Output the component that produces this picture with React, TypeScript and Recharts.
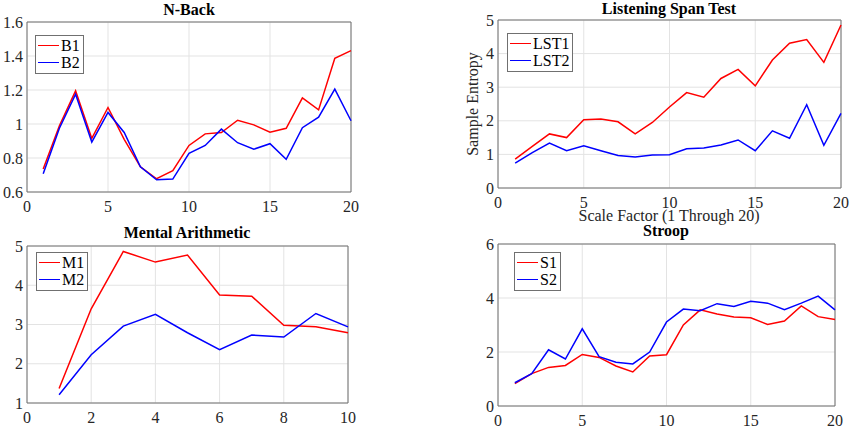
import { LineChart, Line, XAxis, YAxis, CartesianGrid, ReferenceArea, Legend } from 'recharts';

const SERIF = '"Liberation Serif", "Times New Roman", serif';
const AXIS = '#707070';
const GRID = '#e3e3e3';
const RED = '#ff0000';
const BLUE = '#0000ff';

// scale factors
const scale20 = [1, 2, 3, 4, 5, 6, 7, 8, 9, 10, 11, 12, 13, 14, 15, 16, 17, 18, 19, 20];
const scale10 = [1, 2, 3, 4, 5, 6, 7, 8, 9, 10];

// N-Back
const b1 = [0.735, 0.99, 1.195, 0.915, 1.097, 0.91, 0.748, 0.678, 0.725, 0.874, 0.942, 0.95, 1.022, 0.995, 0.952, 0.975, 1.154, 1.083, 1.387, 1.432];
const b2 = [0.708, 0.975, 1.175, 0.894, 1.068, 0.95, 0.748, 0.672, 0.676, 0.827, 0.874, 0.97, 0.89, 0.852, 0.884, 0.792, 0.978, 1.04, 1.205, 1.019];

// Listening Span Test
const lst1 = [0.86, 1.24, 1.61, 1.5, 2.03, 2.05, 1.97, 1.61, 1.95, 2.41, 2.84, 2.7, 3.26, 3.53, 3.04, 3.81, 4.31, 4.42, 3.74, 4.85];
const lst2 = [0.74, 1.05, 1.34, 1.11, 1.26, 1.11, 0.97, 0.92, 0.98, 0.99, 1.17, 1.19, 1.28, 1.43, 1.11, 1.7, 1.48, 2.48, 1.27, 2.22];

// Mental Arithmetic
const m1 = [1.37, 3.4, 4.86, 4.59, 4.77, 3.75, 3.72, 2.98, 2.94, 2.79];
const m2 = [1.21, 2.23, 2.96, 3.26, 2.79, 2.36, 2.73, 2.68, 3.28, 2.94];

// Stroop
const s1 = [0.83, 1.2, 1.43, 1.5, 1.91, 1.8, 1.48, 1.26, 1.85, 1.9, 3.0, 3.56, 3.41, 3.3, 3.27, 3.02, 3.15, 3.71, 3.31, 3.2];
const s2 = [0.86, 1.2, 2.08, 1.74, 2.86, 1.83, 1.62, 1.56, 2.0, 3.11, 3.59, 3.53, 3.79, 3.69, 3.88, 3.81, 3.57, 3.81, 4.07, 3.56];

const xTicks20 = [0, 5, 10, 15, 20];
const xTicks10 = [0, 2, 4, 6, 8, 10];
const nbackTicks = [0.6, 0.8, 1, 1.2, 1.4, 1.6];
const lstTicks = [0, 1, 2, 3, 4, 5];
const maTicks = [1, 2, 3, 4, 5];
const stroopTicks = [0, 2, 4, 6];

function rows(xs: number[], a: number[], b: number[], ka: string, kb: string) {
  return xs.map((x, i) => ({ x, [ka]: a[i], [kb]: b[i] }));
}

const renderXTick = (props: any) => (
  <text
    key={`x-${props.index}`}
    x={props.x}
    y={props.y}
    dy="0.71em"
    textAnchor="middle"
    fontFamily={SERIF}
    fontSize={16}
    fill="#262626"
    style={{ fontFamily: SERIF, fontSize: 16 }}
  >
    {String(props.payload.value)}
  </text>
);

const renderYTick = (props: any) => (
  <text
    key={`y-${props.index}`}
    x={props.x}
    y={props.y}
    dy="0.35em"
    textAnchor="end"
    fontFamily={SERIF}
    fontSize={16}
    fill="#262626"
    style={{ fontFamily: SERIF, fontSize: 16 }}
  >
    {String(props.payload.value)}
  </text>
);

function BoxLegend(props: any) {
  const items = props.payload || [];
  return (
    <div
      style={{
        border: `1px solid ${AXIS}`,
        background: '#fff',
        padding: '1px 3px 2px 2px',
        fontFamily: SERIF,
        fontSize: 16,
        lineHeight: '17px',
        color: '#000',
      }}
    >
      {items.map((p: any) => (
        <div key={p.value} style={{ display: 'flex', alignItems: 'center', whiteSpace: 'nowrap' }}>
          <span style={{ display: 'inline-block', width: 21, borderTop: `1.5px solid ${p.color}`, marginRight: 2 }} />
          <span>{p.value}</span>
        </div>
      ))}
    </div>
  );
}

interface PanelProps {
  left: number;
  top: number;
  width: number;
  height: number;
  margin: { top: number; right: number; bottom: number; left: number };
  yWidth: number;
  data: any[];
  keys: [string, string];
  xMax: number;
  xTicks: number[];
  yDomain: [number, number];
  yTicks: number[];
  legendAt: { left: number; top: number };
}

function Panel(p: PanelProps) {
  return (
    <div style={{ position: 'absolute', left: p.left, top: p.top }}>
      <LineChart width={p.width} height={p.height} data={p.data} margin={p.margin} style={{ fontFamily: SERIF }}>
        <CartesianGrid stroke={GRID} strokeWidth={1} />
        <XAxis
          dataKey="x"
          type="number"
          domain={[0, p.xMax]}
          ticks={p.xTicks}
          height={24}
          axisLine={false}
          tickLine={false}
          tickSize={0}
          tickMargin={9}
          tick={renderXTick}
          interval={0}
        />
        <YAxis
          type="number"
          domain={p.yDomain}
          ticks={p.yTicks}
          width={p.yWidth}
          axisLine={false}
          tickLine={false}
          tickSize={0}
          tickMargin={4}
          tick={renderYTick}
          interval={0}
        />
        <ReferenceArea
          x1={0}
          x2={p.xMax}
          y1={p.yDomain[0]}
          y2={p.yDomain[1]}
          fill="none"
          stroke={AXIS}
          strokeWidth={1}
        />
        <Legend
          layout="vertical"
          align="center"
          verticalAlign="middle"
          content={<BoxLegend />}
          wrapperStyle={{ left: p.legendAt.left, top: p.legendAt.top, width: 'auto', height: 'auto' }}
        />
        <Line dataKey={p.keys[0]} name={p.keys[0]} stroke={RED} strokeWidth={1.5} dot={false} isAnimationActive={false} />
        <Line dataKey={p.keys[1]} name={p.keys[1]} stroke={BLUE} strokeWidth={1.5} dot={false} isAnimationActive={false} />
      </LineChart>
    </div>
  );
}

export default function App() {
  const titleStyle = { fontFamily: SERIF, fontSize: 16, fontWeight: 700, fill: '#000' } as const;
  const labelStyle = { fontFamily: SERIF, fontSize: 16, fill: '#262626' } as const;
  return (
    <div style={{ position: 'absolute', left: 0, top: 0, width: 851, height: 427, background: '#fff' }}>
      <Panel
        left={0}
        top={0}
        width={425}
        height={216}
        margin={{ top: 22, right: 74, bottom: 0, left: 0 }}
        yWidth={27}
        data={rows(scale20, b1, b2, 'B1', 'B2')}
        keys={['B1', 'B2']}
        xMax={20}
        xTicks={xTicks20}
        yDomain={[0.6, 1.6]}
        yTicks={nbackTicks}
        legendAt={{ left: 35, top: 35 }}
      />
      <Panel
        left={425}
        top={0}
        width={426}
        height={216}
        margin={{ top: 20, right: 10, bottom: 4, left: 43 }}
        yWidth={30}
        data={rows(scale20, lst1, lst2, 'LST1', 'LST2')}
        keys={['LST1', 'LST2']}
        xMax={20}
        xTicks={xTicks20}
        yDomain={[0, 5]}
        yTicks={lstTicks}
        legendAt={{ left: 82, top: 33 }}
      />
      <Panel
        left={0}
        top={213}
        width={425}
        height={214}
        margin={{ top: 33, right: 77, bottom: 0, left: 0 }}
        yWidth={27}
        data={rows(scale10, m1, m2, 'M1', 'M2')}
        keys={['M1', 'M2']}
        xMax={10}
        xTicks={xTicks10}
        yDomain={[1, 5]}
        yTicks={maTicks}
        legendAt={{ left: 36, top: 39 }}
      />
      <Panel
        left={425}
        top={213}
        width={426}
        height={214}
        margin={{ top: 31, right: 16, bottom: -3, left: 43 }}
        yWidth={30}
        data={rows(scale20, s1, s2, 'S1', 'S2')}
        keys={['S1', 'S2']}
        xMax={20}
        xTicks={xTicks20}
        yDomain={[0, 6]}
        yTicks={stroopTicks}
        legendAt={{ left: 89, top: 39 }}
      />
      <svg width={851} height={427} style={{ position: 'absolute', left: 0, top: 0, pointerEvents: 'none' }}>
        <text x={189} y={15} textAnchor="middle" style={titleStyle}>N-Back</text>
        <text x={669} y={14} textAnchor="middle" style={titleStyle}>Listening Span Test</text>
        <text x={187} y={238} textAnchor="middle" style={titleStyle}>Mental Arithmetic</text>
        <text x={666} y={236} textAnchor="middle" style={titleStyle}>Stroop</text>
        <text x={669} y={221} textAnchor="middle" style={labelStyle}>Scale Factor (1 Through 20)</text>
        <text x={478} y={104} textAnchor="middle" transform="rotate(-90 478 104)" style={labelStyle}>Sample Entropy</text>
      </svg>
    </div>
  );
}
